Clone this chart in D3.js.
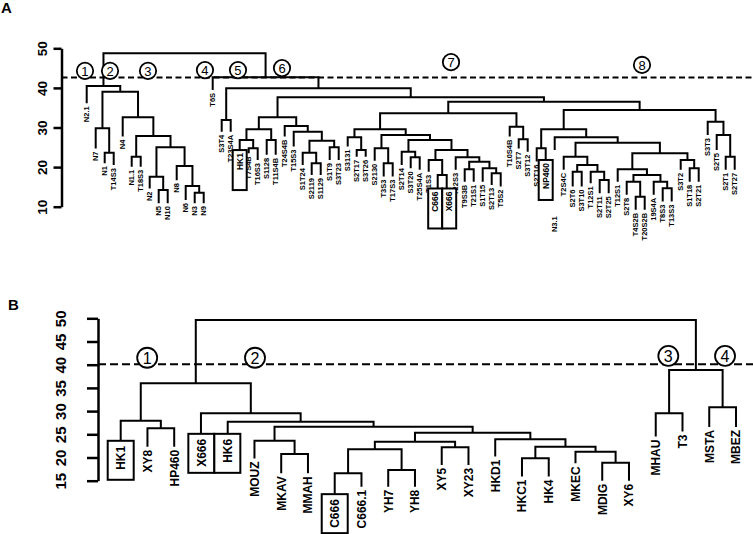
<!DOCTYPE html>
<html><head><meta charset="utf-8">
<script src="https://cdn.jsdelivr.net/npm/d3@7"></script>
<style>body{margin:0;background:#fff} svg{display:block}</style>
</head><body>
<svg id="chart" width="753" height="534"></svg>
<script>
// ---------------- Panel A data ----------------
const leavesA = ["N2.1","N7","N1","T14S3","N4","N1.1","T18S3","N2","N5","N10","N8","N6","N3","N9",
 "T6S","S3T4","T23S4A","HK1","T7S4B","T16S3","S1128","T11S4B","T24S4B","T15S3","S1T24","S2119","S1129","S1T9","S3T23",
 "S3131","S2T17","S3T26","S2130","T3S3","T17S3","S2T14","S3T20","T25S4A","T1S3","C666","X666","T22S3","T9S3B","T21S1","S1T15","S2T13","T5S2",
 "T10S4B","S2T7","S3T12","S2T16","NP460","N3.1","T2S4C","S2T6","S3T10","T12S1","S2T11","S2T25","T12S1","S2T8","T4S2B","T20S2B","19S4A","T8S3","T13S3","S3T2","S1T18","S2T21","S3T3","S2T5","S2T1","S2T27"];
const leafEndA = [36.1,24.7,21.0,20.5,27.7,20.1,20.1,14.6,10.9,10.9,16.7,11.7,10.9,10.9,
 39.5,28.9,28.9,24.3,23.5,21.8,23.1,23.1,27.7,25.2,20.5,18.0,18.0,21.8,21.8,
 25.2,22.6,22.6,21.6,17.6,17.6,20.5,19.7,19.3,18.8,14.6,14.6,19.3,16.3,16.3,16.3,15.5,15.1,
 27.7,24.7,23.9,21.4,21.8,24.3,19.3,15.1,15.1,15.9,13.4,13.4,16.3,13.0,9.2,9.2,13.0,11.3,11.3,19.3,16.3,16.3,28.1,24.3,19.3,19.3];
// merges: [id, left child, right child, height]
const mergesA = [
 ["m","N3","N9",13.54],["l","N6","m",15.23],["j","N8","l",20.28],["k","N5","N10",14.22],["i","N2","k",17.58],
 ["h","i","j",25.0],["g","N1.1","T18S3",22.63],["f","g","h",27.85],["d","N4","f",32.58],["e","N1","T14S3",23.64],
 ["c","N7","e",29.8],["b","c","d",39.04],["a","N2.1","b",40.48],
 ["n1","S3T4","T23S4A",31.89],["BE","T7S4B","T16S3",24.75],["BC","HK1","BE",26.84],["BD","S1128","T11S4B",26.84],
 ["BA","BC","BD",29.55],["BJ","S2119","S1129",20.96],["BH","S1T24","BJ",23.64],["BI","S1T9","S3T23",25.0],
 ["BG","BH","BI",26.67],["BF","T15S3","BG",28.94],["BB","T24S4B","BF",30.38],["U","BA","BB",32.58],
 ["AC","S2T17","S3T26",24.32],["AB","S3131","AC",27.53],["AG","T3S3","T17S3",20.96],["AE","S2130","AG",24.75],
 ["AJ","S3T20","T25S4A",22.47],["AH","S2T14","AJ",23.89],["AM","C666","X666",18.0],["AK","T1S3","AM",21.8],
 ["AO","T9S3B","T21S1",19.44],["AQ","S2T13","T5S2",18.43],["AP","S1T15","AQ",19.7],["AN","AO","AP",21.36],
 ["AL","T22S3","AN",22.47],["AI","AK","AL",24.32],["AF","AH","AI",26.84],["AD","AE","AF",28.11],["Y","AB","AD",29.55],
 ["Z2","S2T7","S3T12",27.02],["Z","T10S4B","Z2",30.2],["W","Y","Z",33.59],
 ["CE","S2T16","NP460",24.75],["CK","S2T6","S3T10",18.84],["CM","S2T11","S2T25",16.74],["CL","T12S1","CM",18.84],
 ["CJ","CK","CL",20.53],["CH","T2S4C","CJ",22.63],["CT","T4S2B","T20S2B",12.53],["CR","S2T8","CT",16.31],
 ["CU","T8S3","T13S3",14.65],["CS","19S4A","CU",16.31],["CQ","CR","CS",18.0],["CN","T12S1(2)","CQ",19.44],
 ["CP","S1T18","S2T21",19.7],["CO","S3T2","CP",21.8],["CI","CN","CO",23.48],["CG","CH","CI",26.16],
 ["CF","N3.1","CG",27.53],["CA","CE","CF",29.55],["CD","S2T1","S2T27",22.63],["CC","S2T5","CD",28.11],
 ["CB","S3T3","CC",31.46],["X","CA","CB",34.42],["V","W","X",36.52],["T","U","V",37.63],["S","n1","T",39.9],
 ["R","T6S","S",42.68],["root","a","R",48.74]];
const boxedA = ["HK1","C666","X666","NP460"];
const labelAtA = {"N3.1": 7.6};
const cutA = 42.6;
const ticksA = [10,20,30,40,50];
const clustersA = [["1",-0.19,44.3],["2",2.59,44.3],["3",6.81,44.3],["4",13.14,44.5],["5",16.81,44.5],["6",21.7,45.0],["7",40.48,46.5],["8",61.7,45.8]];

// ---------------- Panel B data ----------------
const leavesB = ["HK1","XY8","HP460","X666","HK6","MOUZ","MKAV","MMAH","C666","C666.1","YH7","YH8","XY5","XY23","HKD1","HKC1","HK4","MKEC","MDIG","XY6","MHAU","T3","MSTA","MBEZ"];
const leafEndB = [23.6,22.3,22.3,25.1,25.1,19.8,16.6,16.6,12.1,13.7,13.7,13.7,18.4,18.4,20.2,15.9,15.9,18.75,15.0,15.0,24.5,25.6,26.6,26.6];
const mergesB = [
 ["L2","XY8","HP460",26.29],["L1","HK1","L2",27.93],["M6","MKAV","MMAH",20.75],["M4","MOUZ","M6",23.62],
 ["M11","C666","C666.1",16.59],["M12","YH7","YH8",17.31],["M9","M11","M12",21.77],["M10","XY5","XY23",22.2],
 ["M7","M9","M10",23.41],["M14","HKC1","HK4",19.83],["M16","MDIG","XY6",18.88],["M15","MKEC","M16",21.25],
 ["M13","M14","M15",22.33],["M8","HKD1","M13",23.92],["M5","M7","M8",25.34],["M3","M4","M5",26.64],
 ["M2","HK6","M3",27.72],["M1","X666","M2",29.53],["Lft","L1","M1",35.99],
 ["Q","MHAU","T3",29.53],["Rr","MSTA","MBEZ",30.82],["P","Q","Rr",38.86],["rootB","Lft","P",49.63]];
const boxedB = ["HK1","X666","HK6","C666"];
const cutB = 40.1;
const ticksB = [15,20,25,30,35,40,45,50];
const clustersB = [["1",0.99,41.5],["2",5.02,41.5],["3",20.47,41.9],["4",22.59,41.9]];

// ---------------- drawing ----------------
const svg = d3.select("#chart");
const FONT = "'Liberation Sans', Arial, sans-serif";

function build(leaves, ends, merges){
  const seen = {}, ids = [];
  leaves.forEach(n => { seen[n] = (seen[n]||0)+1; ids.push(seen[n] > 1 ? n + "(" + seen[n] + ")" : n); });
  const nodes = {};
  ids.forEach((id,i) => nodes[id] = {leaf:true, i, h: ends[i], name: leaves[i]});
  merges.forEach(([id,l,r,h]) => nodes[id] = {leaf:false, l, r, h});
  function xi(id){ const n = nodes[id]; if (n.xi !== undefined) return n.xi;
    n.xi = n.leaf ? n.i : (xi(n.l) + xi(n.r)) / 2; return n.xi; }
  Object.keys(nodes).forEach(xi);
  return {nodes, ids};
}

function drawPanel(o){
  const g = svg.append("g");
  const {nodes, ids} = build(o.leaves, o.ends, o.merges);
  const x = d3.scaleLinear().domain([0, o.leaves.length-1]).range(o.xRange);
  const y = d3.scaleLinear().domain(o.yDomain).range(o.yRange);

  // axis
  const ax = g.append("g").attr("transform", `translate(${o.axisX},0)`)
    .call(d3.axisLeft(y).tickValues(o.ticks).tickSize(o.tickLen).tickSizeOuter(0).tickFormat(d3.format("d")));
  ax.selectAll("path,line").attr("stroke","#000").attr("stroke-width", 2.5);
  ax.selectAll("text").attr("x",0).attr("dy",null)
    .attr("transform", `translate(${o.tickLabelDx},0) rotate(-90)`)
    .attr("text-anchor","middle").attr("dy","0.36em")
    .style("font-family", FONT).style("font-weight","bold").style("font-size", o.tickFont+"px").attr("fill","#000");

  // cut line
  g.append("line").attr("x1", o.axisX).attr("x2", 753).attr("y1", y(o.cut)).attr("y2", y(o.cut))
    .attr("stroke","#000").attr("stroke-width",2).attr("stroke-dasharray", o.dash);

  // branches
  o.merges.forEach(([id,l,r,h]) => {
    const L = nodes[l], R = nodes[r];
    g.append("path")
      .attr("d", `M${x(L.xi)},${y(L.h)}V${y(h)}H${x(R.xi)}V${y(R.h)}`)
      .attr("fill","none").attr("stroke","#000").attr("stroke-width",2)
      .attr("stroke-linejoin","miter").attr("stroke-linecap","butt");
  });

  // labels (non-boxed)
  ids.forEach((id,i) => {
    const n = nodes[id];
    if (o.boxed.includes(n.name)) return;
    const yy = o.labelAt && o.labelAt[n.name] !== undefined ? y(o.labelAt[n.name]) : y(n.h) + o.gap;
    g.append("text").attr("transform", `translate(${x(i)},${yy}) rotate(-90)`)
      .attr("text-anchor","end").attr("dy","0.36em")
      .style("font-family", FONT).style("font-weight","bold").style("font-size", o.labelFont+"px")
      .text(n.name);
  });

  // boxes: group consecutive boxed leaves
  const bIdx = ids.map((id,i)=>i).filter(i => o.boxed.includes(o.leaves[i]));
  const groups = [];
  bIdx.forEach(i => { const last = groups[groups.length-1];
    if (last && last[last.length-1] === i-1) last.push(i); else groups.push([i]); });
  groups.forEach(grp => {
    const cx = d3.mean(grp, i => x(i));
    const x0 = cx - grp.length * o.boxW / 2;
    grp.forEach((i,k) => {
      const bx = x0 + k*o.boxW, top = y(o.ends[i]);
      g.append("rect").attr("x", bx).attr("y", top).attr("width", o.boxW).attr("height", o.boxH)
        .attr("fill","#fff").attr("stroke","#000").attr("stroke-width",2);
      g.append("text").attr("transform", `translate(${bx + o.boxW/2},${top + o.boxPad}) rotate(-90)`)
        .attr("text-anchor","end").attr("dy","0.36em")
        .style("font-family", FONT).style("font-weight","bold").style("font-size", o.boxFont+"px")
        .text(o.leaves[i]);
    });
  });

  // cluster markers
  o.clusters.forEach(([t,xi,v]) => {
    g.append("circle").attr("cx", x(xi)).attr("cy", y(v)).attr("r", o.circR)
      .attr("fill","#fff").attr("stroke","#000").attr("stroke-width",1.8);
    g.append("text").attr("x", x(xi)).attr("y", y(v)).attr("text-anchor","middle").attr("dy","0.36em")
      .style("font-family", FONT).style("font-size", o.circFont+"px").text(t);
  });

  // panel letter
  svg.append("text").attr("x", o.letterPos[0]).attr("y", o.letterPos[1])
    .style("font-family", FONT).style("font-weight","bold").style("font-size","15px").text(o.letter);
}

drawPanel({leaves: leavesA, ends: leafEndA, merges: mergesA, boxed: boxedA, labelAt: labelAtA,
  xRange: [86.7, 734.7], yDomain: [10,50], yRange: [206.7, 48.3], axisX: 61.5, ticks: ticksA, tickLen: 8,
  tickLabelDx: -19.5, tickFont: 13.5, cut: cutA, dash: "6,3.5", gap: 3, labelFont: 7.5,
  boxW: 14, boxH: 40, boxPad: 3, boxFont: 8.5, clusters: clustersA, circR: 8.2, circFont: 13,
  letter: "A", letterPos: [1, 13]});

drawPanel({leaves: leavesB, ends: leafEndB, merges: mergesB, boxed: boxedB,
  xRange: [120.7, 736], yDomain: [15,50], yRange: [480.7, 318.3], axisX: 98, ticks: ticksB, tickLen: 11,
  tickLabelDx: -37, tickFont: 15, cut: cutB, dash: "8,4", gap: 3, labelFont: 12,
  boxW: 26, boxH: 39, boxPad: 5, boxFont: 12, clusters: clustersB, circR: 10, circFont: 16,
  letter: "B", letterPos: [8, 310]});
</script>
</body></html>
